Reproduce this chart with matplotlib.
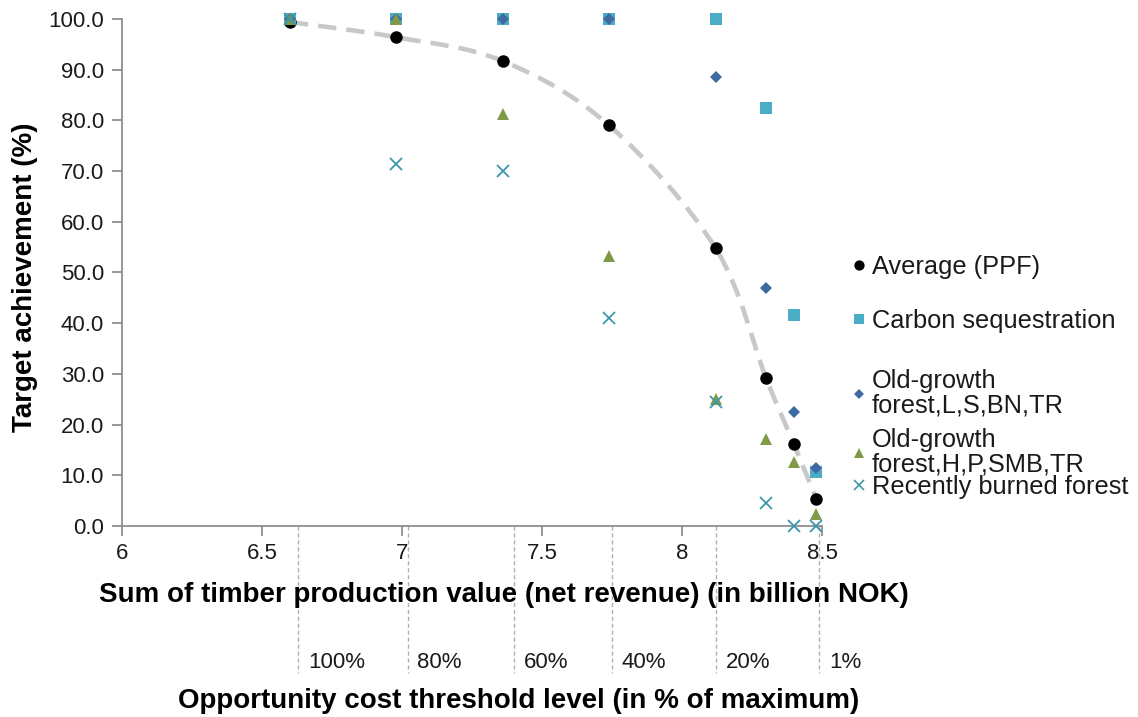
import numpy as np
import matplotlib
matplotlib.use("Agg")
import matplotlib.pyplot as plt
from matplotlib.lines import Line2D
from matplotlib.path import Path
from matplotlib.patches import PathPatch
import matplotlib.transforms as mtransforms

plt.rcParams['font.family'] = ['Liberation Sans', 'DejaVu Sans']

# timber production value (billion NOK) for each threshold level
timber_value = [6.60, 6.98, 7.36, 7.74, 8.12, 8.30, 8.40, 8.48]

average_ppf = [99.4, 96.4, 91.7, 79.0, 54.8, 29.2, 16.1, 5.3]
carbon_seq = [100.0, 100.0, 100.0, 100.0, 100.0, 82.5, 41.7, 10.6]
old_growth_lsbn = [100.0, 100.0, 100.0, 100.0, 88.5, 47.0, 22.4, 11.5]
old_growth_hpsmb = [100.0, 100.0, 81.3, 53.3, 25.0, 17.1, 12.6, 2.4]
recently_burned = [100.0, 71.4, 70.0, 41.0, 24.5, 4.5, 0.0, 0.0]

# opportunity cost threshold levels and where they sit on the x axis
threshold_labels = ['100%', '80%', '60%', '40%', '20%', '1%']
threshold_pos = [6.63, 7.02, 7.40, 7.75, 8.12, 8.49]


def smooth_path(x, y):
    # Catmull-Rom style bezier through the points (like a smoothed line)
    pts = np.column_stack([x, y])
    ext = np.vstack([pts[0], pts, pts[-1]])
    verts = [pts[0]]
    codes = [Path.MOVETO]
    for i in range(1, len(ext) - 2):
        p0, p1, p2, p3 = ext[i - 1], ext[i], ext[i + 1], ext[i + 2]
        verts += [p1 + (p2 - p0) / 6, p2 - (p3 - p1) / 6, p2]
        codes += [Path.CURVE4] * 3
    return Path(verts, codes)


fig = plt.figure(figsize=(11.38, 7.17), dpi=100)
ax = fig.add_axes([0.1072, 0.2664, 0.6151, 0.7071])

# smoothed dashed line through the average (PPF) values
ax.add_patch(PathPatch(smooth_path(timber_value, average_ppf), fill=False,
                       edgecolor='#c8c8c8', lw=3.3, ls=(0, (4, 2.2)),
                       zorder=1, capstyle='butt'))

series = [
    (average_ppf, 'Average (PPF)', 'o', '#000000', 9),
    (carbon_seq, 'Carbon sequestration', 's', '#4bacc6', 8),
    (old_growth_lsbn, 'Old-growth\nforest,L,S,BN,TR', 'D', '#3f6aa1', 6.5),
    (old_growth_hpsmb, 'Old-growth\nforest,H,P,SMB,TR', '^', '#7f9a48', 8.5),
    (recently_burned, 'Recently burned forest', 'x', '#3d97aa', 8),
]

handles = []
for vals, label, mk, col, ms in series:
    mew = 1.3 if mk == 'x' else 0
    ax.plot(timber_value, vals, ls='none', marker=mk, color=col,
            ms=ms, mew=mew, zorder=3, clip_on=False)
    handles.append(Line2D([], [], ls='none', marker=mk, color=col,
                          ms=ms * 0.82, mew=mew * 0.9, label=label))

ax.set_xlim(6, 8.5)
ax.set_ylim(0, 100)
ax.set_xticks([6, 6.5, 7, 7.5, 8, 8.5])
ax.set_xticklabels(['6', '6.5', '7', '7.5', '8', '8.5'])
ax.set_yticks(np.arange(0, 101, 10))
ax.set_yticklabels(['%.1f' % v for v in np.arange(0, 101, 10)])

for s in ['top', 'right']:
    ax.spines[s].set_visible(False)
for s in ['left', 'bottom']:
    ax.spines[s].set_color('#868686')
    ax.spines[s].set_linewidth(1.2)
ax.tick_params(axis='both', direction='out', length=7, width=1.2,
               color='#868686', labelsize=16, labelcolor='#1a1a1a')
ax.tick_params(axis='y', pad=6)
ax.tick_params(axis='x', pad=5)

ax.text(-0.139, 0.49, 'Target achievement (%)', transform=ax.transAxes,
        rotation=90, ha='center', va='center', fontsize=20,
        fontweight='bold')
ax.text(0.545, -0.137, 'Sum of timber production value (net revenue) '
        '(in billion NOK)', transform=ax.transAxes, ha='center', va='center',
        fontsize=20, fontweight='bold')

# threshold markers below the axis
trans = mtransforms.blended_transform_factory(ax.transData, ax.transAxes)
for pos, lab in zip(threshold_pos, threshold_labels):
    ax.plot([pos, pos], [0, -0.29], transform=trans, clip_on=False,
            color='#b0b0b0', lw=1, ls=(0, (3, 2)))
    ax.text(pos + 0.035, -0.27, lab, transform=trans, ha='left',
            va='center', fontsize=16, color='#1a1a1a')
ax.text(0.566, -0.345, 'Opportunity cost threshold level (in % of maximum)',
        transform=ax.transAxes, ha='center', va='center', fontsize=20,
        fontweight='bold')

# legend entries spread out like the original
legend_y = [267, 321, 393, 452, 487]
for h, y in zip(handles, legend_y):
    leg = fig.legend(handles=[h], loc='center left',
                     bbox_to_anchor=(853 / 1138, 1 - y / 717),
                     frameon=False, fontsize=18.3, handlelength=0.5,
                     handletextpad=0.25, borderaxespad=0, borderpad=0)
    leg.get_texts()[0].set_color('#1a1a1a')
    leg.get_texts()[0].set_linespacing(1.05)

fig.savefig('out.png', dpi=100)
